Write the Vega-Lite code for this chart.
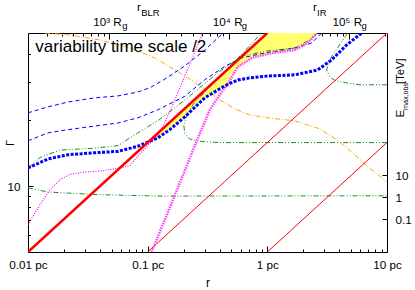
{
  "$schema": "https://vega.github.io/schema/vega-lite/v6.json",
  "width": 359,
  "height": 219,
  "autosize": {"type": "none"},
  "padding": {"left": 28, "top": 33, "right": 28, "bottom": 38},
  "config": {
    "view": {"stroke": "#000000", "strokeWidth": 1},
    "font": "Liberation Sans",
    "axis": {
      "domain": false, "grid": false, "zindex": 1,
      "labelFont": "Liberation Sans", "labelFontSize": 11.7, "labelColor": "#000000",
      "labelFlush": false, "labelOverlap": false, "labelBound": false,
      "tickColor": "#000000", "tickWidth": 1,
      "titleFont": "Liberation Sans", "titleColor": "#000000", "titleFontWeight": "normal"
    }
  },
  "datasets": {
    "yellow": [
      {"r": 0.1016, "lo": 15.9, "hi": 15.94},
      {"r": 0.1216, "lo": 16.6, "hi": 17.4},
      {"r": 0.1532, "lo": 18.1, "hi": 19.6},
      {"r": 0.2044, "lo": 20.7, "hi": 22.6},
      {"r": 0.3002, "lo": 25.3, "hi": 27.4},
      {"r": 0.4496, "lo": 28.8, "hi": 33.5},
      {"r": 0.5662, "lo": 35.0, "hi": 37.6},
      {"r": 0.7411, "lo": 38.5, "hi": 43.0},
      {"r": 1.0, "lo": 40.0, "hi": 50},
      {"r": 1.269, "lo": 41.0, "hi": 50},
      {"r": 1.693, "lo": 41.8, "hi": 50},
      {"r": 2.174, "lo": 45.0, "hi": 50},
      {"r": 2.585, "lo": 50, "hi": 50}
    ],
    "redThick": [{"r": 0.01, "g": 5}, {"r": 1, "g": 50}],
    "redThin": [
      {"s": "a", "r": 0.1, "g": 5}, {"s": "a", "r": 10, "g": 50},
      {"s": "b", "r": 1, "g": 5}, {"s": "b", "r": 10, "g": 15.81}
    ],
    "blueThick": [
      {"r": 0.01, "g": 12.1}, {"r": 0.01469, "g": 13.3}, {"r": 0.02158, "g": 13.9},
      {"r": 0.03626, "g": 14.2}, {"r": 0.05641, "g": 14.4}, {"r": 0.08286, "g": 15.2},
      {"r": 0.1216, "g": 16.6}, {"r": 0.1532, "g": 18.1}, {"r": 0.2044, "g": 20.7},
      {"r": 0.3002, "g": 25.3}, {"r": 0.441, "g": 28.7}, {"r": 0.5662, "g": 30.5},
      {"r": 0.7131, "g": 31.2}, {"r": 1.008, "g": 31.8}, {"r": 1.693, "g": 32.2},
      {"r": 2.635, "g": 33.9}, {"r": 3.448, "g": 37.7}, {"r": 4.601, "g": 44.1},
      {"r": 6.138, "g": 50}
    ],
    "blueThin": [
      {"s": "up", "r": 0.01, "g": 21.6}, {"s": "up", "r": 0.01469, "g": 23.0},
      {"s": "up", "r": 0.02158, "g": 24.2}, {"s": "up", "r": 0.03626, "g": 25.3},
      {"s": "up", "r": 0.05641, "g": 25.8}, {"s": "up", "r": 0.08286, "g": 26.9},
      {"s": "up", "r": 0.1043, "g": 28.1}, {"s": "up", "r": 0.1392, "g": 30.8},
      {"s": "up", "r": 0.2044, "g": 35.4}, {"s": "up", "r": 0.3002, "g": 41.8},
      {"s": "up", "r": 0.4006, "g": 48.4}, {"s": "up", "r": 0.4326, "g": 50},
      {"s": "mid", "r": 0.01, "g": 16.1}, {"s": "mid", "r": 0.01469, "g": 17.5},
      {"s": "mid", "r": 0.02158, "g": 18.1}, {"s": "mid", "r": 0.03626, "g": 18.8},
      {"s": "mid", "r": 0.05641, "g": 19.4}, {"s": "mid", "r": 0.08286, "g": 20.5},
      {"s": "mid", "r": 0.1216, "g": 22.3}, {"s": "mid", "r": 0.2044, "g": 25.7},
      {"s": "mid", "r": 0.3002, "g": 30.6}, {"s": "mid", "r": 0.441, "g": 35.2},
      {"s": "mid", "r": 0.6114, "g": 38.5}, {"s": "mid", "r": 0.9512, "g": 40.5},
      {"s": "mid", "r": 1.693, "g": 42.7}, {"s": "mid", "r": 2.348, "g": 45.0},
      {"s": "mid", "r": 2.845, "g": 50}
    ],
    "magThin": [
      {"r": 0.01, "g": 6.66}, {"r": 0.01259, "g": 8.22}, {"r": 0.01526, "g": 9.61},
      {"r": 0.0185, "g": 10.7}, {"r": 0.02242, "g": 11.3}, {"r": 0.02991, "g": 11.6},
      {"r": 0.0399, "g": 11.7}, {"r": 0.05861, "g": 12.1}, {"r": 0.07102, "g": 12.4},
      {"r": 0.08286, "g": 13.7}, {"r": 0.1004, "g": 15.3}, {"r": 0.1216, "g": 17.0},
      {"r": 0.1532, "g": 21.8}, {"r": 0.1857, "g": 28.1}, {"r": 0.225, "g": 36.1},
      {"r": 0.2889, "g": 50}
    ],
    "magThick": [
      {"r": 0.1078, "g": 5}, {"r": 0.1392, "g": 7.02}, {"r": 0.1857, "g": 10.35},
      {"r": 0.2574, "g": 16.1}, {"r": 0.3305, "g": 22.3}, {"r": 0.4006, "g": 26.1},
      {"r": 0.467, "g": 29.3}, {"r": 0.5662, "g": 35.0}, {"r": 0.7411, "g": 38.5},
      {"r": 1.088, "g": 40.5}, {"r": 1.693, "g": 41.8}, {"r": 2.174, "g": 45.0},
      {"r": 2.585, "g": 50}
    ],
    "green": [
      {"s": "g1", "i": 1, "r": 0.01, "g": 9.82}, {"s": "g1", "i": 2, "r": 0.01469, "g": 9.39},
      {"s": "g1", "i": 3, "r": 0.03626, "g": 9.15}, {"s": "g1", "i": 4, "r": 0.1216, "g": 9.0},
      {"s": "g1", "i": 5, "r": 0.7131, "g": 9.01}, {"s": "g1", "i": 6, "r": 10, "g": 9.03},
      {"s": "g2", "i": 1, "r": 0.01, "g": 12.1}, {"s": "g2", "i": 2, "r": 0.01259, "g": 13.5},
      {"s": "g2", "i": 3, "r": 0.0185, "g": 14.6}, {"s": "g2", "i": 4, "r": 0.03626, "g": 14.9},
      {"s": "g2", "i": 5, "r": 0.05641, "g": 15.3}, {"s": "g2", "i": 6, "r": 0.08286, "g": 17.5},
      {"s": "g2", "i": 7, "r": 0.1216, "g": 19.9}, {"s": "g2", "i": 8, "r": 0.2044, "g": 24.7},
      {"s": "g2", "i": 9, "r": 0.3855, "g": 32.9}, {"s": "g2", "i": 10, "r": 0.6114, "g": 39.2},
      {"s": "g2", "i": 11, "r": 1.008, "g": 41.4}, {"s": "g2", "i": 12, "r": 1.693, "g": 42.7},
      {"s": "g2", "i": 13, "r": 2.259, "g": 46.5}, {"s": "g2", "i": 14, "r": 2.635, "g": 50},
      {"s": "g3", "i": 1, "r": 10, "g": 15.8}, {"s": "g3", "i": 2, "r": 1.864, "g": 15.8},
      {"s": "g3", "i": 3, "r": 0.4006, "g": 15.8}, {"s": "g3", "i": 4, "r": 0.2728, "g": 16.0},
      {"s": "g3", "i": 5, "r": 0.225, "g": 16.4}, {"s": "g3", "i": 6, "r": 0.2044, "g": 17.3},
      {"s": "g3", "i": 7, "r": 0.2005, "g": 19.0}, {"s": "g3", "i": 8, "r": 0.2124, "g": 21.1},
      {"s": "g3", "i": 9, "r": 0.2384, "g": 23.5}, {"s": "g3", "i": 10, "r": 0.3305, "g": 28.4},
      {"s": "g3", "i": 11, "r": 0.4583, "g": 33.9}, {"s": "g3", "i": 12, "r": 0.6478, "g": 41.4},
      {"s": "g3", "i": 13, "r": 0.8981, "g": 50},
      {"s": "g4", "i": 1, "r": 10, "g": 29.0}, {"s": "g4", "i": 2, "r": 5.906, "g": 29.0},
      {"s": "g4", "i": 3, "r": 4.601, "g": 29.6}, {"s": "g4", "i": 4, "r": 3.652, "g": 30.4},
      {"s": "g4", "i": 5, "r": 3.318, "g": 31.5}, {"s": "g4", "i": 6, "r": 3.132, "g": 33.9},
      {"s": "g4", "i": 7, "r": 3.255, "g": 36.9}, {"s": "g4", "i": 8, "r": 3.515, "g": 39.7},
      {"s": "g4", "i": 9, "r": 4.02, "g": 44.1}, {"s": "g4", "i": 10, "r": 4.69, "g": 50}
    ],
    "orange": [
      {"r": 0.01387, "e": 31700000}, {"r": 0.02242, "e": 25700000}, {"r": 0.0399, "e": 15200000},
      {"r": 0.07102, "e": 6570000}, {"r": 0.1148, "e": 2300000}, {"r": 0.1532, "e": 893000},
      {"r": 0.2044, "e": 347000}, {"r": 0.3002, "e": 88700}, {"r": 0.4006, "e": 27900},
      {"r": 0.5346, "e": 10900}, {"r": 0.7131, "e": 5780}, {"r": 1.008, "e": 4220},
      {"r": 1.693, "e": 3080}, {"r": 2.738, "e": 1330}, {"r": 3.795, "e": 419},
      {"r": 5.164, "e": 107}, {"r": 6.757, "e": 27.3}, {"r": 10, "e": 5.09}
    ],
    "label": [{"r": 0.01151, "g": 40.8, "t": "variability time scale /2"}]
  },
  "resolve": {"scale": {"y": "independent"}, "axis": {"x": "independent", "y": "independent"}},
  "layer": [
    {
      "data": {"name": "yellow"},
      "mark": {"type": "area", "color": "#ffff70", "opacity": 1, "clip": true},
      "encoding": {
        "x": {"field": "r", "type": "quantitative", "scale": {"type": "log", "domain": [0.01, 10], "nice": false},
          "axis": {"orient": "bottom", "values": [0.01, 0.1, 1, 10], "tickSize": -6, "labelPadding": 22, "labelBaseline": "alphabetic",
            "labelExpr": "datum.value < 0.05 ? '0.01 pc' : datum.value < 0.5 ? '0.1 pc' : datum.value < 5 ? '1 pc' : '10 pc'",
            "title": "r", "titleFontSize": 12, "titleX": 179.5, "titleY": 34.5, "titleAlign": "center", "titleBaseline": "alphabetic"}},
        "y": {"field": "lo", "type": "quantitative", "scale": {"type": "log", "domain": [5, 50], "nice": false},
          "axis": {"orient": "left", "values": [10], "tickSize": -5, "labelPadding": 13,
            "title": "Γ", "titleFontSize": 11, "titleAngle": 270, "titleX": -14.5, "titleY": 109.5, "titleAlign": "center", "titleBaseline": "alphabetic"}},
        "y2": {"field": "hi"}
      }
    },
    {
      "data": {"name": "green"},
      "mark": {"type": "line", "color": "#228b22", "strokeWidth": 1, "strokeDash": [5, 2, 1, 2, 1, 2], "clip": true},
      "encoding": {
        "x": {"field": "r", "type": "quantitative", "scale": {"type": "log", "domain": [0.01, 10], "nice": false},
          "axis": {"orient": "top", "values": [0.01431, 0.01908, 0.02386, 0.02863, 0.0334, 0.03817, 0.04294, 0.0954, 0.1431, 0.1908, 0.2386, 0.2863, 0.334, 0.3817, 0.4294, 0.954, 1.431, 1.908, 2.386, 2.863, 3.34, 3.817, 4.294, 9.54],
            "tickSize": -3, "labels": false, "title": null}},
        "y": {"field": "g", "type": "quantitative", "scale": {"type": "log", "domain": [5, 50], "nice": false},
          "axis": {"orient": "left", "values": [6, 7, 8, 9, 20, 30, 40], "tickSize": -2.5, "labels": false, "title": null}},
        "detail": {"field": "s"},
        "order": {"field": "i", "type": "quantitative"}
      }
    },
    {
      "data": {"name": "orange"},
      "mark": {"type": "line", "color": "#ffa500", "strokeWidth": 1, "strokeDash": [5, 2, 1, 2], "clip": true},
      "encoding": {
        "x": {"field": "r", "type": "quantitative", "scale": {"type": "log", "domain": [0.01, 10], "nice": false}, "axis": null},
        "y": {"field": "e", "type": "quantitative", "scale": {"type": "log", "domain": [0.0031623, 31623000], "nice": false},
          "axis": {"orient": "right", "values": [0.1, 1, 10], "tickSize": -5, "labelPadding": 13,
            "title": "E", "titleFontSize": 11.5, "titleAngle": 270, "titleX": 16, "titleY": 84, "titleAlign": "left", "titleBaseline": "alphabetic"}}
      }
    },
    {
      "data": {"name": "blueThin"},
      "mark": {"type": "line", "color": "#0000ff", "strokeWidth": 1, "strokeDash": [4, 3], "clip": true},
      "encoding": {
        "x": {"field": "r", "type": "quantitative", "scale": {"type": "log", "domain": [0.01, 10], "nice": false},
          "axis": {"orient": "top", "values": [0.04771, 0.4771, 4.771], "ticks": false, "labelPadding": 4.7, "labelBaseline": "alphabetic",
            "labelAlign": "left", "labelOffset": 12.5, "labelFontSize": 9.4, "labelExpr": "'g'", "title": null}},
        "y": {"field": "g", "type": "quantitative", "scale": {"type": "log", "domain": [5, 50], "nice": false}, "axis": null},
        "detail": {"field": "s"}
      }
    },
    {
      "data": {"name": "redThin"},
      "mark": {"type": "line", "color": "#ff0000", "strokeWidth": 1, "clip": true},
      "encoding": {
        "x": {"field": "r", "type": "quantitative", "scale": {"type": "log", "domain": [0.01, 10], "nice": false},
          "axis": {"orient": "top", "values": [0.04771, 0.4771, 4.771], "tickSize": -6, "labelPadding": 14, "labelBaseline": "alphabetic",
            "labelAlign": "left", "labelOffset": -16.5,
            "labelExpr": "datum.value < 0.1 ? '10³ R' : datum.value < 1 ? '10⁴ R' : '10⁵ R'", "title": null}},
        "y": {"field": "g", "type": "quantitative", "scale": {"type": "log", "domain": [5, 50], "nice": false}, "axis": null},
        "detail": {"field": "s"}
      }
    },
    {
      "data": {"name": "magThin"},
      "mark": {"type": "line", "color": "#ff00ff", "strokeWidth": 1.2, "strokeDash": [1, 1.5], "clip": true},
      "encoding": {
        "x": {"field": "r", "type": "quantitative", "scale": {"type": "log", "domain": [0.01, 10], "nice": false},
          "axis": {"orient": "top", "values": [0.1, 2.95], "ticks": false, "labelPadding": 23, "labelBaseline": "alphabetic",
            "labelAlign": "right", "labelOffset": -7.2, "labelExpr": "'r'", "title": null}},
        "y": {"field": "g", "type": "quantitative", "scale": {"type": "log", "domain": [5, 50], "nice": false}, "axis": null}
      }
    },
    {
      "data": {"name": "magThick"},
      "mark": {"type": "line", "color": "#ff40ff", "strokeWidth": 2.5, "strokeDash": [1.5, 1], "clip": true},
      "encoding": {
        "x": {"field": "r", "type": "quantitative", "scale": {"type": "log", "domain": [0.01, 10], "nice": false},
          "axis": {"orient": "top", "values": [0.1, 2.95], "ticks": false, "labelPadding": 18, "labelBaseline": "alphabetic",
            "labelAlign": "left", "labelOffset": -7, "labelFontSize": 9.4, "labelExpr": "datum.value < 1 ? 'BLR' : 'IR'", "title": null}},
        "y": {"field": "g", "type": "quantitative", "scale": {"type": "log", "domain": [5, 50], "nice": false},
          "axis": {"orient": "right", "ticks": false, "labels": false, "title": "max,obs", "titleFontSize": 7.2, "titleAngle": 270,
            "titleX": 20, "titleY": 76.5, "titleAlign": "left", "titleBaseline": "alphabetic"}}
      }
    },
    {
      "data": {"name": "blueThick"},
      "mark": {"type": "line", "color": "#0000ff", "strokeWidth": 3, "strokeDash": [3, 1.5], "clip": true},
      "encoding": {
        "x": {"field": "r", "type": "quantitative", "scale": {"type": "log", "domain": [0.01, 10], "nice": false},
          "axis": {"orient": "bottom", "values": [0.02, 0.03, 0.04, 0.05, 0.06, 0.07, 0.08, 0.09, 0.2, 0.3, 0.4, 0.5, 0.6, 0.7, 0.8, 0.9, 2, 3, 4, 5, 6, 7, 8, 9],
            "tickSize": -3, "labels": false, "title": null}},
        "y": {"field": "g", "type": "quantitative", "scale": {"type": "log", "domain": [5, 50], "nice": false}, "axis": null}
      }
    },
    {
      "data": {"name": "redThick"},
      "mark": {"type": "line", "color": "#ff0000", "strokeWidth": 2.5, "clip": true},
      "encoding": {
        "x": {"field": "r", "type": "quantitative", "scale": {"type": "log", "domain": [0.01, 10], "nice": false}, "axis": null},
        "y": {"field": "g", "type": "quantitative", "scale": {"type": "log", "domain": [5, 50], "nice": false}, "axis": null}
      }
    },
    {
      "data": {"name": "label"},
      "mark": {"type": "text", "align": "left", "baseline": "alphabetic", "fontSize": 17, "font": "Liberation Sans", "color": "#000000"},
      "encoding": {
        "x": {"field": "r", "type": "quantitative", "scale": {"type": "log", "domain": [0.01, 10], "nice": false}, "axis": null},
        "y": {"field": "g", "type": "quantitative", "scale": {"type": "log", "domain": [5, 50], "nice": false},
          "axis": {"orient": "right", "ticks": false, "labels": false, "title": "[TeV]", "titleFontSize": 11.2, "titleAngle": 270,
            "titleX": 16, "titleY": 50.5, "titleAlign": "left", "titleBaseline": "alphabetic"}},
        "text": {"field": "t"}
      }
    }
  ]
}
